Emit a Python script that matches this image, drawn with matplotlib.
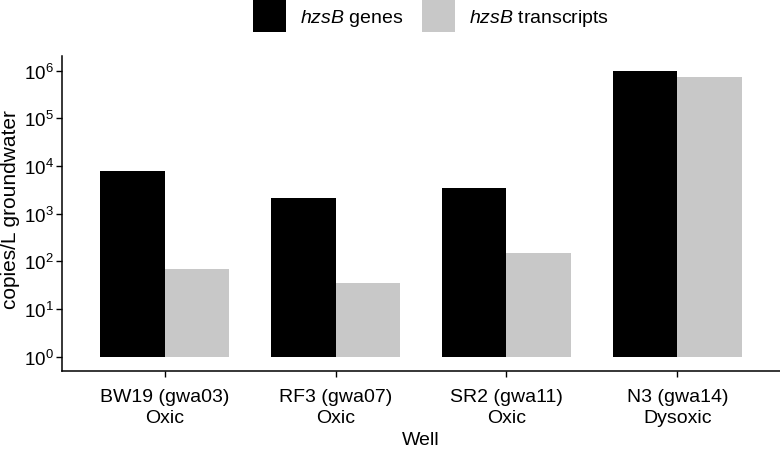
import matplotlib
matplotlib.use("Agg")
import matplotlib.pyplot as plt
from matplotlib.patches import Patch
import numpy as np

plt.rcParams["font.family"] = ["Liberation Sans", "DejaVu Sans"]
plt.rcParams["mathtext.fontset"] = "custom"
plt.rcParams["mathtext.rm"] = "Liberation Sans"
plt.rcParams["mathtext.it"] = "Liberation Sans:italic"

wells = ["BW19 (gwa03)\nOxic", "RF3 (gwa07)\nOxic", "SR2 (gwa11)\nOxic", "N3 (gwa14)\nDysoxic"]
genes = [8000, 2150, 3500, 980000]
transcripts = [70, 35, 152, 740000]
series_labels = [r"$\it{hzsB}$ genes", r"$\it{hzsB}$ transcripts"]
colors = ["#000000", "#c8c8c8"]

fig = plt.figure(figsize=(7.8, 4.56), dpi=100)
ax = fig.add_axes([0.0795, 0.184, 0.9205, 0.69])

x = np.arange(len(wells))
w = 0.375
g = np.array(genes, dtype=float)
t = np.array(transcripts, dtype=float)
ax.bar(x - w / 2, g - 1, width=w, bottom=1, color=colors[0], linewidth=0)
ax.bar(x + w / 2, t - 1, width=w, bottom=1, color=colors[1], linewidth=0)

ax.set_yscale("log")
ax.set_ylim(10 ** -0.3, 10 ** 6.3)
ax.set_xlim(-0.6, len(wells) - 0.4)
ax.set_yticks([10 ** k for k in range(7)])
ax.yaxis.set_minor_locator(matplotlib.ticker.NullLocator())
ax.set_xticks(x)
ax.set_xticklabels(wells, fontsize=14, linespacing=1.3)
ax.tick_params(axis="y", labelsize=13.5, length=4, width=1, pad=2)
ax.tick_params(axis="x", length=4, width=1, pad=8)

for side in ["top", "right"]:
    ax.spines[side].set_visible(False)
for side in ["left", "bottom"]:
    ax.spines[side].set_linewidth(1.1)

ax.set_xlabel("Well", fontsize=14, labelpad=4)
ax.set_ylabel("copies/L groundwater", fontsize=15)
ax.yaxis.set_label_coords(-0.058, 0.518)

handles = [Patch(facecolor=c, edgecolor="none") for c in colors]
fig.legend(handles, series_labels, loc="upper center", bbox_to_anchor=(0.553, 1.0),
           ncol=2, frameon=False, fontsize=14, handlelength=1.7, handleheight=2.25,
           handletextpad=0.72, columnspacing=0.95, borderpad=0, borderaxespad=0)

fig.savefig("out.png", dpi=100)
